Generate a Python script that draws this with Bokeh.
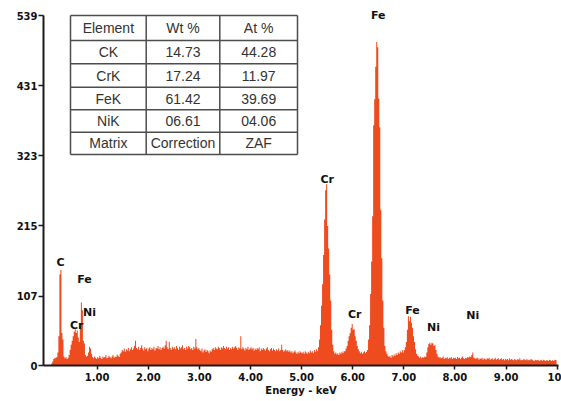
from bokeh.plotting import figure
from bokeh.models import FixedTicker, Range1d
from bokeh.core.properties import value
from bokeh.embed import file_html
from bokeh.resources import INLINE

# ---------------- data ----------------
channel_width_kev = 0.02  # 500 channels from 0 to 10 keV

counts_0_1 = [0, 0, 0, 0, 0, 3, 6, 10, 12, 11,
              13, 20, 45, 140, 147, 50, 40, 14, 11, 13,
              10, 12, 16, 24, 32, 38, 45, 52, 56, 50,
              54, 43, 36, 60, 97, 85, 38, 34, 16, 14,
              15, 20, 29, 26, 18, 13, 11, 14, 12, 10]
counts_1_2 = [13, 11, 15, 12, 10, 14, 12, 13, 16, 11,
              12, 15, 13, 11, 14, 16, 12, 14, 13, 17,
              15, 13, 18, 20, 24, 22, 26, 21, 25, 23,
              27, 22, 25, 28, 24, 26, 30, 38, 27, 25,
              29, 24, 27, 31, 26, 23, 28, 25, 27, 22]
counts_2_3 = [26, 28, 24, 27, 25, 29, 23, 27, 26, 30,
              25, 28, 24, 27, 29, 26, 31, 38, 28, 25,
              36, 27, 24, 29, 26, 28, 25, 30, 27, 24,
              29, 26, 28, 31, 25, 27, 24, 29, 26, 30,
              28, 25, 27, 24, 29, 26, 41, 28, 25, 27]
counts_3_4 = [24, 22, 26, 20, 23, 25, 21, 24, 22, 19,
              23, 21, 25, 27, 24, 28, 26, 25, 29, 27,
              24, 28, 26, 30, 27, 25, 29, 26, 28, 24,
              27, 25, 29, 26, 28, 30, 27, 24, 28, 26,
              45, 25, 28, 26, 23, 27, 25, 29, 24, 26]
counts_4_5 = [28, 25, 27, 23, 26, 24, 27, 25, 28, 22,
              26, 24, 27, 25, 23, 26, 28, 24, 22, 25,
              27, 23, 26, 24, 22, 25, 23, 26, 22, 24,
              32, 24, 21, 23, 25, 22, 24, 21, 23, 20,
              22, 19, 21, 23, 20, 18, 21, 19, 22, 20]
counts_5_6 = [19, 21, 18, 22, 20, 18, 21, 19, 23, 20,
              22, 19, 24, 21, 25, 22, 28, 40, 62, 92,
              125, 170, 225, 270, 279, 215, 180, 140, 100, 55,
              32, 22, 18, 20, 17, 19, 16, 20, 18, 21,
              19, 22, 22, 26, 30, 38, 45, 50, 58, 64]
counts_6_7 = [55, 56, 45, 38, 30, 25, 22, 19, 21, 18,
              20, 22, 19, 21, 24, 40, 62, 110, 160, 230,
              370, 410, 460, 498, 490, 411, 367, 240, 165, 100,
              58, 30, 22, 18, 15, 13, 15, 12, 16, 14,
              17, 15, 19, 16, 20, 18, 22, 20, 24, 20]
counts_7_8 = [24, 28, 36, 55, 76, 68, 75, 66, 58, 45,
              36, 25, 18, 15, 14, 12, 14, 11, 13, 12,
              14, 13, 20, 28, 33, 35, 32, 35, 34, 30,
              32, 24, 18, 14, 12, 13, 11, 12, 14, 10,
              12, 11, 13, 10, 12, 11, 13, 10, 12, 11]
counts_8_9 = [12, 10, 13, 11, 12, 10, 12, 14, 11, 10,
              12, 11, 13, 12, 14, 13, 16, 20, 12, 11,
              10, 12, 11, 9, 11, 10, 12, 9, 11, 10,
              9, 11, 10, 12, 9, 10, 11, 9, 10, 12,
              9, 10, 11, 9, 10, 11, 9, 10, 8, 10]
counts_9_10 = [9, 10, 8, 11, 9, 10, 9, 8, 10, 9,
               8, 10, 9, 11, 8, 9, 8, 10, 9, 8,
               10, 8, 9, 8, 10, 9, 8, 7, 9, 8,
               8, 9, 7, 8, 9, 7, 9, 8, 7, 8,
               8, 7, 9, 8, 7, 8, 7, 8, 9, 8]

x_tick_values = [1, 2, 3, 4, 5, 6, 7, 8, 9, 10]
x_tick_labels = ["1.00", "2.00", "3.00", "4.00", "5.00", "6.00", "7.00", "8.00", "9.00", "10"]
y_tick_values = [0, 107, 215, 323, 431, 539]
x_axis_title = "Energy - keV"

peak_names = ["C", "Fe", "Cr", "Ni", "Cr", "Fe", "Cr", "Fe", "Ni", "Ni"]
peak_label_kev = [0.28, 0.75, 0.60, 0.85, 5.50, 6.50, 6.04, 7.17, 7.58, 8.35]
peak_label_counts = [158, 132, 62, 82, 286, 539, 78, 85, 58, 77]

table_header = ["Element", "Wt %", "At %"]
table_element = ["CK", "CrK", "FeK", "NiK", "Matrix"]
table_wt = ["14.73", "17.24", "61.42", "06.61", "Correction"]
table_at = ["44.28", "11.97", "39.69", "04.06", "ZAF"]

counts = (counts_0_1 + counts_1_2 + counts_2_3 + counts_3_4 + counts_4_5 +
          counts_5_6 + counts_6_7 + counts_7_8 + counts_8_9 + counts_9_10)
energies = [channel_width_kev * (i + 0.5) for i in range(len(counts))]

# ---------------- layout ----------------
W, H = 561, 401
FL, FR, FT, FB = 43, 558, 5, 365      # frame edges in pixels
X0, X1 = -0.051, 10.027
Y0, Y1 = 0, 554.4

def dx(px):
    return X0 + (px - FL) * (X1 - X0) / (FR - FL)

def dy(py):
    return Y0 + (FB - py) * (Y1 - Y0) / (FB - FT)

p = figure(width=W, height=H, output_backend="svg", toolbar_location=None,
           x_range=Range1d(X0, X1), y_range=Range1d(Y0, Y1),
           min_border_left=FL, min_border_right=W - FR,
           min_border_top=FT, min_border_bottom=H - FB)
p.outline_line_color = None
p.grid.visible = False
p.background_fill_color = "white"
p.border_fill_color = "white"

bar_color = "#EE4B1F"
p.varea_step(x=energies, y1=[0] * len(counts), y2=counts, step_mode="center",
             fill_color=bar_color)

# axes
ax = p.xaxis[0]
ax.ticker = FixedTicker(ticks=x_tick_values)
ax.major_label_overrides = {v: l for v, l in zip(x_tick_values, x_tick_labels)}
ax.minor_tick_line_color = None
ax.major_tick_in = 0
ax.major_tick_out = 4
ax.axis_line_width = 2
ax.axis_line_color = "#1a1a1a"
ax.major_tick_line_color = "#1a1a1a"
ax.major_tick_line_width = 1.5
ax.major_label_text_font = "DejaVu Sans"
ax.major_label_text_font_style = "bold"
ax.major_label_text_font_size = "10px"
ax.major_label_text_color = "#111111"
ax.major_label_standoff = 3
ax.axis_label = x_axis_title
ax.axis_label_text_font = "DejaVu Sans"
ax.axis_label_text_font_style = "bold"
ax.axis_label_text_font_size = "10px"
ax.axis_label_text_color = "#111111"
ax.axis_label_standoff = 1

ay = p.yaxis[0]
ay.ticker = FixedTicker(ticks=y_tick_values)
ay.bounds = (0, 539)
ay.minor_tick_line_color = None
ay.major_tick_in = 0
ay.major_tick_out = 5
ay.axis_line_width = 2
ay.axis_line_color = "#1a1a1a"
ay.major_tick_line_color = "#1a1a1a"
ay.major_tick_line_width = 1.5
ay.major_label_text_font = "DejaVu Sans"
ay.major_label_text_font_style = "bold"
ay.major_label_text_font_size = "10px"
ay.major_label_text_color = "#111111"
ay.major_label_standoff = 1

# peak labels
p.text(x=peak_label_kev, y=peak_label_counts, text=peak_names,
       text_font=value("DejaVu Sans"), text_font_style="bold",
       text_font_size="11px", text_color="#111111",
       text_align="center", text_baseline="middle")

# table
t_left, t_right = 70, 297
col_edges = [70, 145.7, 219.3, 297]
row_edges = [15, 40, 63.3, 86.7, 109.3, 131.7, 154]
seg_x0, seg_y0, seg_x1, seg_y1 = [], [], [], []
for r in row_edges:
    seg_x0.append(dx(t_left)); seg_x1.append(dx(t_right))
    seg_y0.append(dy(r)); seg_y1.append(dy(r))
for c in col_edges:
    seg_x0.append(dx(c)); seg_x1.append(dx(c))
    seg_y0.append(dy(row_edges[0])); seg_y1.append(dy(row_edges[-1]))
p.segment(x0=seg_x0, y0=seg_y0, x1=seg_x1, y1=seg_y1,
          line_color="#4d4d4d", line_width=1.5)

col_centers = [(col_edges[i] + col_edges[i + 1]) / 2 for i in range(3)]
row_centers = [(row_edges[i] + row_edges[i + 1]) / 2 for i in range(6)]
columns = [[table_header[0]] + table_element,
           [table_header[1]] + table_wt,
           [table_header[2]] + table_at]
tx, ty, tt = [], [], []
for ci, col in enumerate(columns):
    for ri, s in enumerate(col):
        tx.append(dx(col_centers[ci]))
        ty.append(dy(row_centers[ri]))
        tt.append(s)
p.text(x=tx, y=ty, text=tt, text_font=value("Liberation Sans"),
       text_font_size="14px", text_color="#333333",
       text_align="center", text_baseline="middle")

open("out.html", "w").write(file_html(p, INLINE))
